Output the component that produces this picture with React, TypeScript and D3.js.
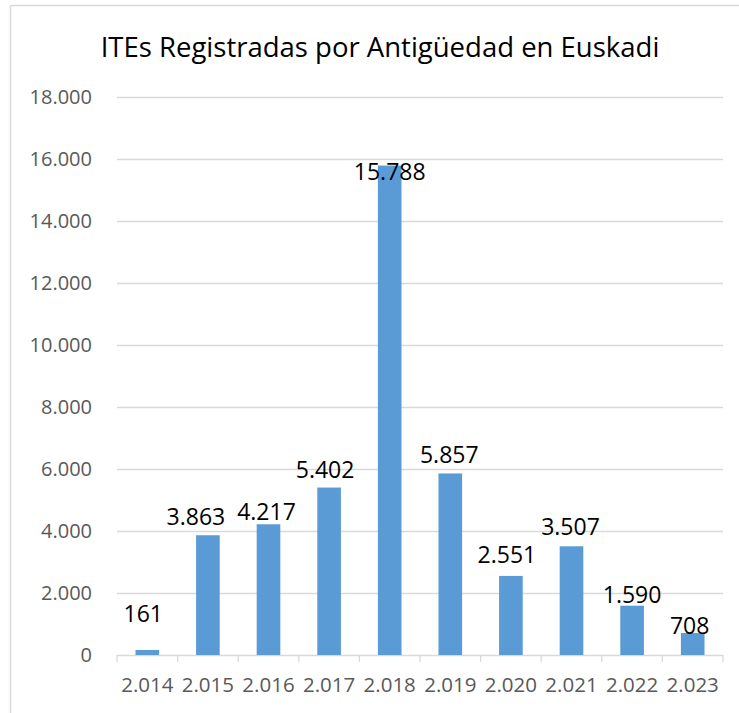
import React from "react";
import * as d3 from "d3";

const title = "ITEs Registradas por Antigüedad en Euskadi";
const categories = ["2.014", "2.015", "2.016", "2.017", "2.018", "2.019", "2.020", "2.021", "2.022", "2.023"];
const values = [161, 3863, 4217, 5402, 15788, 5857, 2551, 3507, 1590, 708];
const yTicks = [0, 2000, 4000, 6000, 8000, 10000, 12000, 14000, 16000, 18000];
// manual label nudges (dx, dy in px relative to bar top centre), as in the source chart
const labelNudge: [number, number][] = [
  [-4, -28], [-12, -10], [-2, -4], [-4, -10], [0, 14],
  [-1, -10], [-4, -13], [-1, -11], [0, -3], [-3, 1],
];

const W = 739;
const H = 713;
const FONT = "'Open Sans', sans-serif";
const fmt = (v: number) => d3.format(",")(v).replace(/,/g, ".");

export default function App() {
  const x = d3.scaleBand<string>().domain(categories).range([117, 723]).paddingInner(0.61).paddingOuter(0.305);
  const band = d3.scaleBand<string>().domain(categories).range([117, 723]);
  const y = d3.scaleLinear().domain([0, 18000]).range([655, 97]);
  const tickXs = [...categories.map((c) => band(c)!), 723];

  return (
    <svg
      width={W}
      height={H}
      style={{ position: "absolute", left: 0, top: 0, background: "#fff" }}
      fontFamily={FONT}
    >
      <rect x={0} y={0} width={W} height={H} fill="#fff" />
      <line x1={10.5} y1={5.5} x2={W} y2={5.5} stroke="#d9d9d9" strokeWidth={1.5} />
      <line x1={10.5} y1={5.5} x2={10.5} y2={H} stroke="#d9d9d9" strokeWidth={1.5} />
      <text x={380} y={56.7} textAnchor="middle" fontSize={27.5} fill="#000">
        {title}
      </text>
      {yTicks.map((t) => (
        <g key={t}>
          <line x1={117} x2={723} y1={Math.round(y(t)) + 0.5} y2={Math.round(y(t)) + 0.5} stroke="#d9d9d9" strokeWidth={1.3} />
          <text x={92} y={y(t)} dy="0.35em" textAnchor="end" fontSize={20} fill="#595959">
            {fmt(t)}
          </text>
        </g>
      ))}
      {tickXs.map((tx, i) => (
        <line key={i} x1={tx} x2={tx} y1={655} y2={662} stroke="#d9d9d9" strokeWidth={1.3} />
      ))}
      {categories.map((c, i) => (
        <rect key={c} x={x(c)} y={y(values[i])} width={x.bandwidth()} height={y(0) - y(values[i])} fill="#5b9bd5" />
      ))}
      {categories.map((c) => (
        <text key={c} x={band(c)! + band.bandwidth() / 2} y={691.7} textAnchor="middle" fontSize={20.5} fill="#595959">
          {c}
        </text>
      ))}
      {categories.map((c, i) => (
        <text
          key={c}
          x={x(c)! + x.bandwidth() / 2 + labelNudge[i][0]}
          y={y(values[i]) + labelNudge[i][1]}
          textAnchor="middle"
          fontSize={23}
          fill="#000"
        >
          {fmt(values[i])}
        </text>
      ))}
    </svg>
  );
}
